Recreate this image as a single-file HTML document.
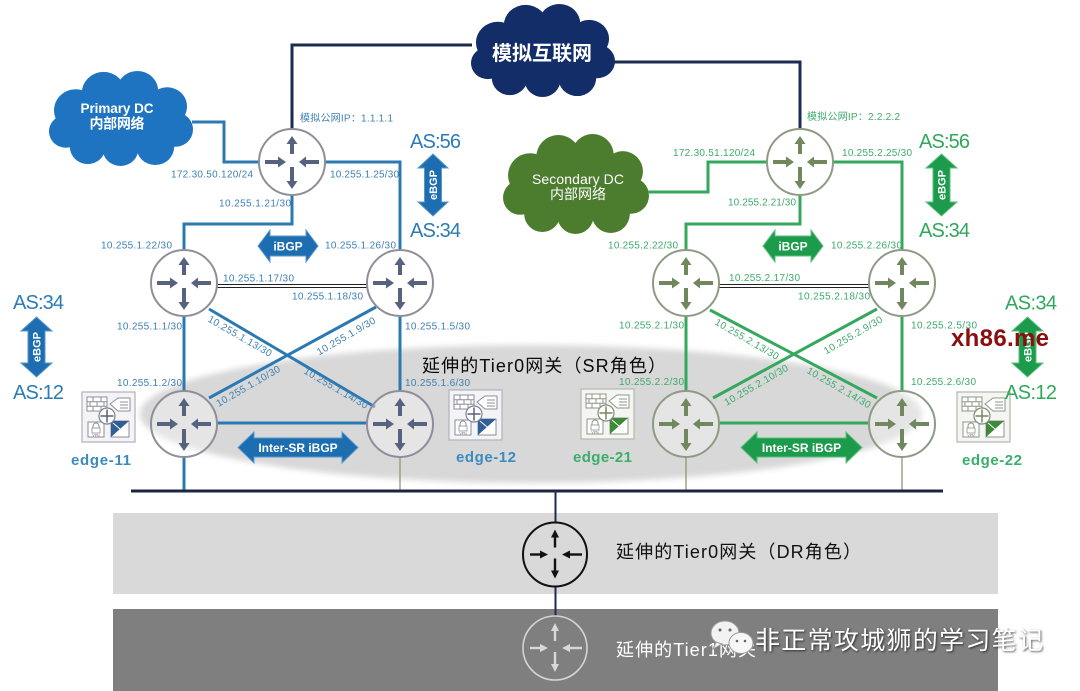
<!DOCTYPE html>
<html><head><meta charset="utf-8">
<style>
html,body{margin:0;padding:0;background:#fff;}
svg{display:block;}
text{font-family:"Liberation Sans","Noto Sans CJK SC",sans-serif;}
.lb{font-size:10px;fill:#3f80b3;}
.lg{font-size:10px;fill:#3eaa6c;}
.asb{font-size:20px;fill:#2c7bb6;}
.asg{font-size:20px;fill:#2fa85c;}
.wt{fill:#fff;font-weight:bold;}
</style></head><body>
<svg width="1080" height="691" viewBox="0 0 1080 691" xmlns="http://www.w3.org/2000/svg">
<defs>
 <filter id="blur" x="-5%" y="-20%" width="110%" height="140%">
  <feGaussianBlur stdDeviation="3"/>
 </filter>
 <symbol id="cloud" viewBox="0 0 150 100" preserveAspectRatio="none" overflow="visible">
  <circle cx="30" cy="42" r="22"/>
  <circle cx="58" cy="24" r="22"/>
  <circle cx="92" cy="22" r="21"/>
  <circle cx="122" cy="38" r="20"/>
  <circle cx="130" cy="62" r="18"/>
  <circle cx="110" cy="80" r="19"/>
  <circle cx="75" cy="82" r="18"/>
  <circle cx="42" cy="80" r="18"/>
  <circle cx="20" cy="64" r="17"/>
  <ellipse cx="75" cy="52" rx="55" ry="32"/>
 </symbol>
 <g id="arr">
  <rect x="-2" y="-19" width="4" height="11"/>
  <polygon points="0,-26 -5.5,-18 5.5,-18"/>
  <rect x="-2" y="5" width="4" height="14"/>
  <polygon points="0,27 -5.5,19 5.5,19"/>
  <rect x="-27" y="-2" width="13" height="4"/>
  <polygon points="-6,0 -14,-5.5 -14,5.5"/>
  <rect x="14" y="-2" width="13" height="4"/>
  <polygon points="7,0 14,-5.5 14,5.5"/>
 </g>
 <g id="rb">
  <circle r="33" fill="#fff" fill-opacity="0.35" stroke="#8e8e9a" stroke-width="2"/>
  <use href="#arr" fill="#56627e"/>
 </g>
 <g id="rg">
  <circle r="33" fill="#fff" fill-opacity="0.35" stroke="#8f9a84" stroke-width="2"/>
  <use href="#arr" fill="#71885f"/>
 </g>
 <g id="arr2">
  <rect x="-1.2" y="-18" width="2.4" height="11"/>
  <polygon points="0,-25 -4,-17 4,-17"/>
  <rect x="-1.2" y="4" width="2.4" height="12"/>
  <polygon points="0,24 -4,16 4,16"/>
  <rect x="-25" y="-1.2" width="11" height="2.4"/>
  <polygon points="-7,0 -15,-4 -15,4"/>
  <rect x="15" y="-1.2" width="12" height="2.4"/>
  <polygon points="7,0 15,-4 15,4"/>
 </g>
 <g id="edgeB">
  <rect x="0" y="0" width="53" height="50" fill="#f4f4f6" stroke="#b4b6c0" stroke-width="1.3"/>
  <g fill="none" stroke="#8c8e9a" stroke-width="1">
   <rect x="5" y="5" width="20" height="14" fill="#fff"/>
   <path d="M5,9.7H25M5,14.3H25M11,5V9.7M19,5V9.7M8,9.7V14.3M15,9.7V14.3M22,9.7V14.3M11,14.3V19M19,14.3V19"/>
   <path d="M28,12 L36,6 H48 V19 H36 Z" fill="#fff"/>
   <path d="M38,10H46M38,13H46M38,16H46"/>
   <rect x="6" y="30" width="16" height="15" fill="#fff"/>
   <rect x="29" y="29" width="18" height="16" fill="#fff"/>
  </g>
  <polygon points="29,29 47,29 29,45" fill="#2f5f96"/>
  <path d="M31,31 L45,43" stroke="#fff" stroke-width="1"/>
  <circle cx="25" cy="24" r="8" fill="#fff" stroke="#7f8190" stroke-width="1.2"/>
  <path d="M25,17.5V30.5M18.5,24H31.5" stroke="#56627e" stroke-width="1.5"/>
  <path d="M11,37 v-3 a3,3 0 0 1 6,0 v3" fill="none" stroke="#8c8e9a" stroke-width="1"/>
  <rect x="10" y="36" width="8" height="5" fill="#fff" stroke="#8c8e9a" stroke-width="0.8"/>
  <text x="14" y="44.5" font-size="3.5" text-anchor="middle" fill="#777">VPN</text>
 </g>
 <g id="edgeG">
  <rect x="0" y="0" width="53" height="50" fill="#f5f6f3" stroke="#b6bcb0" stroke-width="1.3"/>
  <g fill="none" stroke="#8e9686" stroke-width="1">
   <rect x="5" y="5" width="20" height="14" fill="#fff"/>
   <path d="M5,9.7H25M5,14.3H25M11,5V9.7M19,5V9.7M8,9.7V14.3M15,9.7V14.3M22,9.7V14.3M11,14.3V19M19,14.3V19"/>
   <path d="M28,12 L36,6 H48 V19 H36 Z" fill="#fff"/>
   <path d="M38,10H46M38,13H46M38,16H46"/>
   <rect x="6" y="30" width="16" height="15" fill="#fff"/>
   <rect x="29" y="29" width="18" height="16" fill="#fff"/>
  </g>
  <polygon points="29,29 47,29 29,45" fill="#3f8a3a"/>
  <path d="M31,31 L45,43" stroke="#fff" stroke-width="1"/>
  <circle cx="25" cy="24" r="8" fill="#fff" stroke="#828a7a" stroke-width="1.2"/>
  <path d="M25,17.5V30.5M18.5,24H31.5" stroke="#71885f" stroke-width="1.5"/>
  <path d="M11,37 v-3 a3,3 0 0 1 6,0 v3" fill="none" stroke="#8e9686" stroke-width="1"/>
  <rect x="10" y="36" width="8" height="5" fill="#fff" stroke="#8e9686" stroke-width="0.8"/>
  <text x="14" y="44.5" font-size="3.5" text-anchor="middle" fill="#777">VPN</text>
 </g>
</defs>

<rect width="1080" height="691" fill="#fff"/>

<!-- SR ellipse -->
<ellipse cx="531" cy="414" rx="391" ry="69" fill="#d8d8d8" filter="url(#blur)"/>

<!-- bottom bands -->
<rect x="113" y="513" width="885" height="81" fill="#d9d9d9"/>
<rect x="113" y="609" width="885" height="82" fill="#7f7f7f"/>

<!-- clouds -->
<use href="#cloud" x="468" y="3" width="149" height="94" fill="#122d68"/>
<use href="#cloud" x="46" y="70" width="149" height="96" fill="#1f74c2"/>
<use href="#cloud" x="500" y="133" width="151" height="101" fill="#4c7d2f"/>
<text x="542" y="60" font-size="20" class="wt" text-anchor="middle" textLength="100">模拟互联网</text>
<text x="117" y="113" font-size="13.5" class="wt" text-anchor="middle" textLength="73">Primary DC</text>
<text x="117" y="128.5" font-size="14" class="wt" text-anchor="middle" textLength="55">内部网络</text>
<text x="578" y="184" font-size="14" fill="#fff" text-anchor="middle" textLength="92">Secondary DC</text>
<text x="578" y="199" font-size="14" fill="#fff" text-anchor="middle" textLength="56">内部网络</text>

<!-- navy lines -->
<g fill="none" stroke="#1b2b52" stroke-width="3">
 <path d="M292,129 V45 H472"/>
 <path d="M614,62 H800 V129"/>
</g>

<!-- blue lines -->
<g fill="none" stroke="#2b79b1" stroke-width="3">
 <path d="M192,122 H224 V162 H259"/>
 <path d="M325,162 H400 V250"/>
 <path d="M292,195 V224 H184 V250"/>
 <path d="M184,316 V391"/>
 <path d="M400,316 V391"/>
 <path d="M184,457 V491"/>
 <path d="M217,423 H367"/>
 <path d="M209,309 L375,407"/>
 <path d="M376,307 L209,398"/>
</g>
<!-- green lines -->
<g fill="none" stroke="#35a85e" stroke-width="3">
 <path d="M648,192 H708 V162 H767"/>
 <path d="M833,162 H902 V250"/>
 <path d="M800,195 V224 H686 V250"/>
 <path d="M686,316 V391"/>
 <path d="M902,316 V391"/>
 <path d="M719,423 H869"/>
 <path d="M710,310 L877,398"/>
 <path d="M877,309 L713,398"/>
</g>
<g fill="none" stroke="#8f9670" stroke-width="1.3">
 <path d="M400,457 V491"/>
 <path d="M686,457 V491"/>
 <path d="M902,457 V491"/>
</g>
<g fill="none" stroke="#222" stroke-width="1">
 <path d="M217,284.5 H367 M217,287.5 H367"/>
 <path d="M719,284.5 H869 M719,287.5 H869"/>
</g>

<!-- bus -->
<path d="M131,491 H943" stroke="#1b2440" stroke-width="3"/>
<path d="M555.5,491 V522 M555.5,587 V616" stroke="#1b2b52" stroke-width="2"/>

<!-- routers -->
<use href="#rb" x="292" y="162"/>
<use href="#rb" x="184" y="283"/>
<use href="#rb" x="400" y="283"/>
<use href="#rb" x="184" y="424"/>
<use href="#rb" x="400" y="424"/>
<use href="#rg" x="800" y="162"/>
<use href="#rg" x="686" y="283"/>
<use href="#rg" x="902" y="283"/>
<use href="#rg" x="686" y="424"/>
<use href="#rg" x="902" y="424"/>

<!-- DR / Tier1 routers -->
<circle cx="555" cy="554.5" r="32" fill="none" stroke="#111" stroke-width="2"/>
<use href="#arr2" x="555" y="554.5" fill="#111"/>
<circle cx="555" cy="648" r="32" fill="none" stroke="#d4d4d4" stroke-width="1.6"/>
<use href="#arr2" x="555" y="648" fill="#d8d8d8"/>

<!-- edge icons -->
<use href="#edgeB" x="82" y="392"/>
<use href="#edgeB" x="449" y="390"/>
<use href="#edgeG" x="581" y="389"/>
<use href="#edgeG" x="957" y="392"/>

<!-- block arrows blue -->
<g fill="#1d6db1" stroke="#5a96c9" stroke-width="1">
 <path d="M258,246 L270,230 L270,236 L306,236 L306,230 L318,246 L306,262 L306,256 L270,256 L270,262 Z"/>
 <path d="M238,447.5 L254,432 L254,438 L342,438 L342,432 L358,447.5 L342,463 L342,457 L254,457 L254,463 Z"/>
 <path d="M433,154 L448,168 L441.5,168 L441.5,202 L448,202 L433,216 L418,202 L424.5,202 L424.5,168 L418,168 Z"/>
 <path d="M36.5,317 L52,331 L45,331 L45,363 L52,363 L36.5,377 L21,363 L28,363 L28,331 L21,331 Z"/>
</g>
<!-- block arrows green -->
<g fill="#1c9b4c" stroke="#5cbf7c" stroke-width="1">
 <path d="M763,246 L775,230 L775,236 L811,236 L811,230 L823,246 L811,262 L811,256 L775,256 L775,262 Z"/>
 <path d="M741,447.5 L757,432 L757,438 L846,438 L846,432 L862,447.5 L846,463 L846,457 L757,457 L757,463 Z"/>
 <path d="M941.5,154 L957,168 L950,168 L950,202 L957,202 L941.5,216 L926,202 L933,202 L933,168 L926,168 Z"/>
 <path d="M1027.5,317 L1043,331 L1036,331 L1036,363 L1043,363 L1027.5,377 L1012,363 L1019,363 L1019,331 L1012,331 Z"/>
</g>
<g class="wt" font-size="12" text-anchor="middle">
 <text x="288" y="250.5">iBGP</text>
 <text x="793" y="250.5">iBGP</text>
 <text x="298" y="452">Inter-SR iBGP</text>
 <text x="801.5" y="452">Inter-SR iBGP</text>
</g>
<g class="wt" font-size="11" text-anchor="middle">
 <text x="433" y="189" transform="rotate(-90 433 185)">eBGP</text>
 <text x="36.5" y="351" transform="rotate(-90 36.5 347)">eBGP</text>
 <text x="941.5" y="189" transform="rotate(-90 941.5 185)">eBGP</text>
 <text x="1027.5" y="351" transform="rotate(-90 1027.5 347)">eBGP</text>
</g>

<!-- AS labels -->
<text x="410" y="148" class="asb" textLength="51">AS:56</text>
<text x="410" y="237" class="asb" textLength="51">AS:34</text>
<text x="13" y="309" class="asb" textLength="51">AS:34</text>
<text x="13" y="399" class="asb" textLength="51">AS:12</text>
<text x="919" y="148" class="asg" textLength="51">AS:56</text>
<text x="919" y="237" class="asg" textLength="51">AS:34</text>
<text x="1005" y="309.5" class="asg" textLength="52">AS:34</text>
<text x="1005" y="399" class="asg" textLength="52">AS:12</text>

<!-- blue small labels -->
<text x="300" y="121.5" class="lb" textLength="93">模拟公网IP：1.1.1.1</text>
<text x="171" y="177.5" class="lb" textLength="82">172.30.50.120/24</text>
<text x="330" y="177.5" class="lb" textLength="69">10.255.1.25/30</text>
<text x="219" y="206.5" class="lb" textLength="72">10.255.1.21/30</text>
<text x="101" y="248.5" class="lb" textLength="71">10.255.1.22/30</text>
<text x="325" y="248.5" class="lb" textLength="71">10.255.1.26/30</text>
<text x="223" y="281.5" class="lb" textLength="71">10.255.1.17/30</text>
<text x="292" y="299.5" class="lb" textLength="71">10.255.1.18/30</text>
<text x="117" y="329.5" class="lb" textLength="65">10.255.1.1/30</text>
<text x="405" y="329.5" class="lb" textLength="65">10.255.1.5/30</text>
<text x="117" y="386" class="lb" textLength="65">10.255.1.2/30</text>
<text x="405" y="386" class="lb" textLength="65">10.255.1.6/30</text>
<g class="lb" text-anchor="middle">
 <text x="240" y="339.5" transform="rotate(30 240 336)" textLength="72">10.255.1.13/30</text>
 <text x="346" y="339.5" transform="rotate(-30 346 336)" textLength="66">10.255.1.9/30</text>
 <text x="248" y="389.5" transform="rotate(-30 248 386)" textLength="72">10.255.1.10/30</text>
 <text x="336" y="391.5" transform="rotate(30 336 388)" textLength="72">10.255.1.14/30</text>
</g>

<!-- green small labels -->
<text x="807" y="120" class="lg" textLength="93">模拟公网IP：2.2.2.2</text>
<text x="673" y="156" class="lg" textLength="82">172.30.51.120/24</text>
<text x="842" y="156" class="lg" textLength="70">10.255.2.25/30</text>
<text x="728" y="205.5" class="lg" textLength="68">10.255.2.21/30</text>
<text x="608" y="248.5" class="lg" textLength="70">10.255.2.22/30</text>
<text x="831" y="248.5" class="lg" textLength="71">10.255.2.26/30</text>
<text x="729" y="281" class="lg" textLength="71">10.255.2.17/30</text>
<text x="798" y="299.5" class="lg" textLength="72">10.255.2.18/30</text>
<text x="619" y="328.5" class="lg" textLength="65">10.255.2.1/30</text>
<text x="911" y="328.5" class="lg" textLength="66">10.255.2.5/30</text>
<text x="619" y="385" class="lg" textLength="65">10.255.2.2/30</text>
<text x="911" y="385" class="lg" textLength="65">10.255.2.6/30</text>
<g class="lg" text-anchor="middle">
 <text x="747" y="342.5" transform="rotate(30 747 339)" textLength="72">10.255.2.13/30</text>
 <text x="853" y="338.5" transform="rotate(-30 853 335)" textLength="66">10.255.2.9/30</text>
 <text x="756" y="388.5" transform="rotate(-30 756 385)" textLength="72">10.255.2.10/30</text>
 <text x="839" y="391" transform="rotate(30 839 387.5)" textLength="72">10.255.2.14/30</text>
</g>

<!-- edge names -->
<g font-size="15" font-weight="600">
 <text x="71" y="465" fill="#3b8bbf" textLength="60">edge-11</text>
 <text x="456" y="462" fill="#3b8bbf" textLength="60">edge-12</text>
 <text x="573" y="462" fill="#3aae6a" textLength="59">edge-21</text>
 <text x="962" y="465" fill="#3aae6a" textLength="60">edge-22</text>
</g>

<!-- SR / DR / Tier1 titles -->
<text x="422" y="372" font-size="18" fill="#0a0a0a" textLength="244">延伸的Tier0网关（SR角色）</text>
<text x="616" y="558" font-size="18" fill="#111" textLength="245">延伸的Tier0网关（DR角色）</text>
<text x="616" y="656" font-size="18" fill="#fff" textLength="140">延伸的Tier1网关</text>

<!-- watermark xh86.me -->
<text x="951" y="346" font-size="24" font-weight="bold" fill="#8b0d0d" textLength="98">xh86.me</text>

<!-- wechat watermark -->
<g stroke="#999" stroke-width="1">
 <ellipse cx="725" cy="633" rx="14" ry="12" fill="#f2f2f2"/>
 <path d="M716,642 L713,649 L722,644 Z" fill="#f2f2f2"/>
 <ellipse cx="741" cy="643" rx="12" ry="10.5" fill="#f7f7f7"/>
</g>
<g fill="#666">
 <circle cx="720" cy="630" r="1.5"/><circle cx="730" cy="630" r="1.5"/>
 <circle cx="737" cy="641" r="1.3"/><circle cx="745" cy="641" r="1.3"/>
</g>
<text x="755" y="649" font-size="25" fill="#fff" textLength="288" style="filter:drop-shadow(1px 1px 1px rgba(0,0,0,0.65))">非正常攻城狮的学习笔记</text>
</svg>
</body></html>
